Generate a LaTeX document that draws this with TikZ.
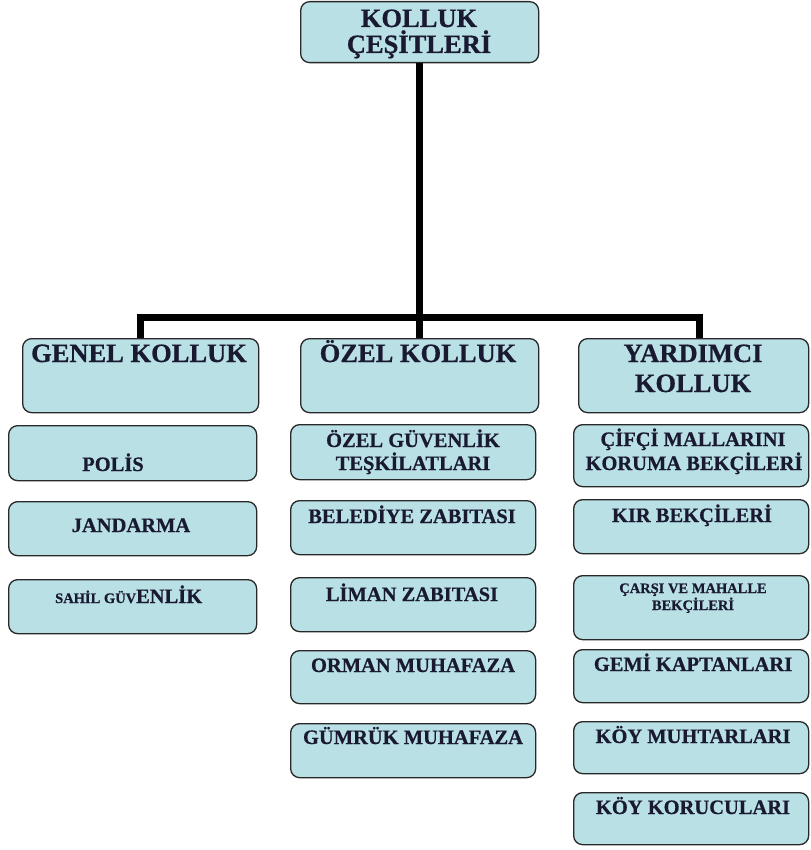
\documentclass[tikz,border=0pt]{standalone}
\usepackage{fontspec}
\setmainfont{Liberation Serif}[BoldFeatures={FakeBold=0.6}]
\usetikzlibrary{calc}
\definecolor{boxfill}{RGB}{185,224,228}
\definecolor{boxline}{RGB}{40,40,40}
\definecolor{txtcol}{RGB}{25,25,50}
\begin{document}
\begin{tikzpicture}[x=1pt,y=-1pt,
  box/.style={draw=boxline, fill=boxfill, line width=1.3pt, rounded corners=9pt, inner sep=0pt, anchor=north west},
  conn/.style={line width=7pt, line join=miter, draw=black},
  lbl/.style={anchor=base, inner sep=0pt, text=txtcol, font=\bfseries\fontsize{20.5}{20.5}\selectfont},
  big/.style={lbl, font=\bfseries\fontsize{26.5}{26.5}\selectfont},
  small/.style={lbl, font=\bfseries\fontsize{14.5}{14.5}\selectfont}]
\useasboundingbox (0,0) rectangle (810,850);
% boxes
\node[box, minimum width=238pt, minimum height=61pt] (top) at (300,1) {};
\node[box, minimum width=236pt, minimum height=74pt] (genel) at (22,338) {};
\node[box, minimum width=238pt, minimum height=74pt] (ozel) at (300,338) {};
\node[box, minimum width=230pt, minimum height=74pt] (yard) at (578,338) {};
\node[box, minimum width=248pt, minimum height=55pt] (polis) at (8,425) {};
\node[box, minimum width=248pt, minimum height=54pt] (jand) at (8,501) {};
\node[box, minimum width=248pt, minimum height=54pt] (sahil) at (8,579) {};
\node[box, minimum width=245pt, minimum height=55pt] (ozg) at (290,424) {};
\node[box, minimum width=245pt, minimum height=54pt] (beled) at (290,500) {};
\node[box, minimum width=245pt, minimum height=54pt] (liman) at (290,577) {};
\node[box, minimum width=245pt, minimum height=53pt] (orman) at (290,650) {};
\node[box, minimum width=245pt, minimum height=54pt] (gumruk) at (290,723) {};
\node[box, minimum width=235pt, minimum height=62pt] (cifci) at (573,424) {};
\node[box, minimum width=235pt, minimum height=54pt] (kir) at (573,499) {};
\node[box, minimum width=235pt, minimum height=64pt] (carsi) at (573,575) {};
\node[box, minimum width=235pt, minimum height=53pt] (gemi) at (573,649) {};
\node[box, minimum width=235pt, minimum height=52pt] (muhtar) at (573,721) {};
\node[box, minimum width=235pt, minimum height=52pt] (koruc) at (573,792) {};
% connectors
\coordinate (hub) at (419,317);
\draw[conn] (top.south) -- (ozel.north);
\draw[conn] (genel.north) |- (hub) -| ($(yard.north)+(6,0)$);
% texts
\node[big] (t1) at (419,27) {KOLLUK};
\node[big] (t2) at (419,53) {ÇEŞİTLERİ};
\node[big] (t3) at (139,362) {GENEL KOLLUK};
\node[big] (t4) at (418,362) {ÖZEL KOLLUK};
\node[big] (t5) at (693,362) {YARDIMCI};
\node[big] (t6) at (693,392) {KOLLUK};
\node[lbl] (t7) at (113,471) {POLİS};
\node[lbl] (t8) at (131,532) {JANDARMA};
\node[lbl, anchor=base west] (t9) at (55,603) {{\fontsize{14.5}{14.5}\selectfont SAHİL GÜV}ENLİK};
\node[lbl] (t10) at (413,447) {ÖZEL GÜVENLİK};
\node[lbl] (t11) at (413,470) {TEŞKİLATLARI};
\node[lbl] (t12) at (412,523) {BELEDİYE ZABITASI};
\node[lbl] (t13) at (412,601) {LİMAN ZABITASI};
\node[lbl] (t14) at (413,672) {ORMAN MUHAFAZA};
\node[lbl] (t15) at (413,744) {GÜMRÜK MUHAFAZA};
\node[lbl] (t16) at (693,446) {ÇİFÇİ MALLARINI};
\node[lbl] (t17) at (694,470) {KORUMA BEKÇİLERİ};
\node[lbl] (t18) at (692,522) {KIR BEKÇİLERİ};
\node[small] (t19) at (693,593) {ÇARŞI VE MAHALLE};
\node[small] (t20) at (693,610) {BEKÇİLERİ};
\node[lbl] (t21) at (693,671) {GEMİ KAPTANLARI};
\node[lbl] (t22) at (693,743) {KÖY MUHTARLARI};
\node[lbl] (t23) at (693,814) {KÖY KORUCULARI};
\end{tikzpicture}
\end{document}
